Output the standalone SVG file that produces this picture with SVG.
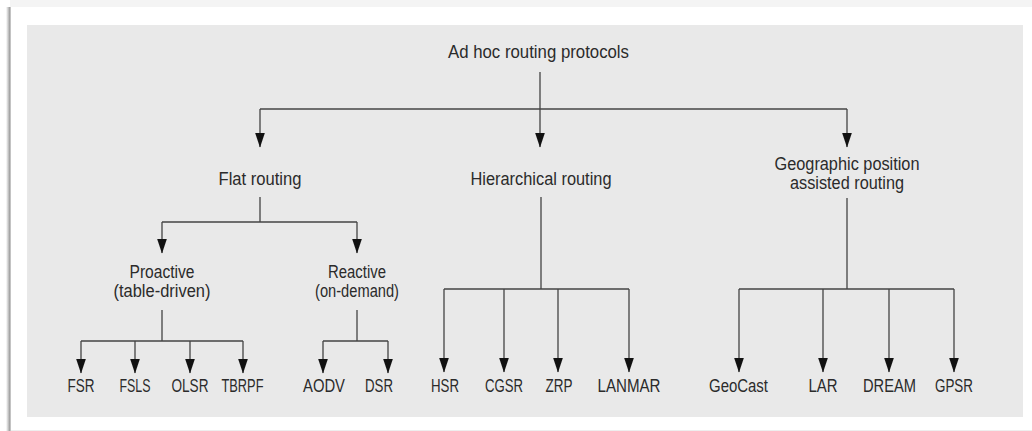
<svg xmlns="http://www.w3.org/2000/svg" width="1032" height="431" viewBox="0 0 1032 431">
  <defs>
    <style>
      .t { font-family: "Liberation Sans", Arial, sans-serif; font-size: 17.5px; fill: #2b2b2b; text-anchor: middle; }
      .c { fill: none; stroke: #444; stroke-width: 1.3; }
      .a { fill: none; stroke: #444; stroke-width: 1.3; marker-end: url(#arr); }
    </style>
    <marker id="arr" viewBox="0 0 15 10" refX="14.5" refY="5" markerWidth="15" markerHeight="10" markerUnits="userSpaceOnUse" orient="auto">
      <path d="M0,0 L15,5 L0,10 Z" fill="#111"/>
    </marker>
    <linearGradient id="shadow" x1="0" y1="0" x2="1" y2="0">
      <stop offset="0" stop-color="#fff"/>
      <stop offset="0.6" stop-color="#bbb"/>
      <stop offset="1" stop-color="#888"/>
    </linearGradient>
  </defs>

  <!-- frame -->
  <rect x="0" y="0" width="1032" height="431" fill="#fff"/>
  <rect x="10" y="0" width="1022" height="7" fill="#f4f4f4"/>
  <rect x="6" y="7" width="4.5" height="424" fill="url(#shadow)"/>
  <line x1="11" y1="430.5" x2="1032" y2="430.5" stroke="#eee" stroke-width="1"/>
  <rect x="27" y="25" width="996" height="392" fill="#e9e9e9"/>

  <g id="connectors">
    <!-- root -->
    <path class="c" d="M540,72 V109"/>
    <path class="c" d="M260,109 H847"/>
    <path class="a" d="M260,109 V147"/>
    <path class="a" d="M540,109 V147"/>
    <path class="a" d="M847,109 V147"/>
    <!-- flat -->
    <path class="c" d="M260,197 V222 M162,222 H357"/>
    <path class="a" d="M162,222 V253"/>
    <path class="a" d="M357,222 V253"/>
    <!-- proactive -->
    <path class="c" d="M162,310 V341 M81,341 H243"/>
    <path class="a" d="M81,341 V373"/>
    <path class="a" d="M135,341 V373"/>
    <path class="a" d="M190,341 V373"/>
    <path class="a" d="M243,341 V373"/>
    <!-- reactive -->
    <path class="c" d="M357,310 V341 M323,341 H388"/>
    <path class="a" d="M323,341 V373"/>
    <path class="a" d="M388,341 V373"/>
    <!-- hierarchical -->
    <path class="c" d="M541,197 V289 M444,289 H629"/>
    <path class="a" d="M444,289 V372"/>
    <path class="a" d="M504,289 V372"/>
    <path class="a" d="M558,289 V372"/>
    <path class="a" d="M629,289 V372"/>
    <!-- geographic -->
    <path class="c" d="M847,198 V289 M739,289 H954"/>
    <path class="a" d="M739,289 V372"/>
    <path class="a" d="M823,289 V372"/>
    <path class="a" d="M889,289 V372"/>
    <path class="a" d="M954,289 V372"/>
  </g>

  <g id="root"><text class="t" x="538.5" y="58" textLength="181" lengthAdjust="spacingAndGlyphs">Ad hoc routing protocols</text></g>
  <g id="flat"><text class="t" x="260" y="185" textLength="83" lengthAdjust="spacingAndGlyphs">Flat routing</text></g>
  <g id="hier"><text class="t" x="541" y="185" textLength="141" lengthAdjust="spacingAndGlyphs">Hierarchical routing</text></g>
  <g id="geo">
    <text class="t" x="847" y="170" textLength="145" lengthAdjust="spacingAndGlyphs">Geographic position</text>
    <text class="t" x="847" y="189" textLength="114" lengthAdjust="spacingAndGlyphs">assisted routing</text>
  </g>
  <g id="proactive">
    <text class="t" x="162" y="278" textLength="65" lengthAdjust="spacingAndGlyphs">Proactive</text>
    <text class="t" x="162" y="297" textLength="97" lengthAdjust="spacingAndGlyphs">(table-driven)</text>
  </g>
  <g id="reactive">
    <text class="t" x="357" y="278" textLength="58" lengthAdjust="spacingAndGlyphs">Reactive</text>
    <text class="t" x="357" y="297" textLength="84" lengthAdjust="spacingAndGlyphs">(on-demand)</text>
  </g>
  <g id="fsr"><text class="t" x="81" y="392" textLength="27" lengthAdjust="spacingAndGlyphs">FSR</text></g>
  <g id="fsls"><text class="t" x="135" y="392" textLength="31" lengthAdjust="spacingAndGlyphs">FSLS</text></g>
  <g id="olsr"><text class="t" x="190" y="392" textLength="37" lengthAdjust="spacingAndGlyphs">OLSR</text></g>
  <g id="tbrpf"><text class="t" x="242.5" y="392" textLength="42" lengthAdjust="spacingAndGlyphs">TBRPF</text></g>
  <g id="aodv"><text class="t" x="324" y="392" textLength="42" lengthAdjust="spacingAndGlyphs">AODV</text></g>
  <g id="dsr"><text class="t" x="379" y="392" textLength="28" lengthAdjust="spacingAndGlyphs">DSR</text></g>
  <g id="hsr"><text class="t" x="445" y="392" textLength="28" lengthAdjust="spacingAndGlyphs">HSR</text></g>
  <g id="cgsr"><text class="t" x="504" y="392" textLength="38" lengthAdjust="spacingAndGlyphs">CGSR</text></g>
  <g id="zrp"><text class="t" x="559" y="392" textLength="27" lengthAdjust="spacingAndGlyphs">ZRP</text></g>
  <g id="lanmar"><text class="t" x="629" y="392" textLength="63" lengthAdjust="spacingAndGlyphs">LANMAR</text></g>
  <g id="geocast"><text class="t" x="738.5" y="392" textLength="59" lengthAdjust="spacingAndGlyphs">GeoCast</text></g>
  <g id="lar"><text class="t" x="823" y="392" textLength="29" lengthAdjust="spacingAndGlyphs">LAR</text></g>
  <g id="dream"><text class="t" x="889.5" y="392" textLength="53" lengthAdjust="spacingAndGlyphs">DREAM</text></g>
  <g id="gpsr"><text class="t" x="954" y="392" textLength="38" lengthAdjust="spacingAndGlyphs">GPSR</text></g>
</svg>
